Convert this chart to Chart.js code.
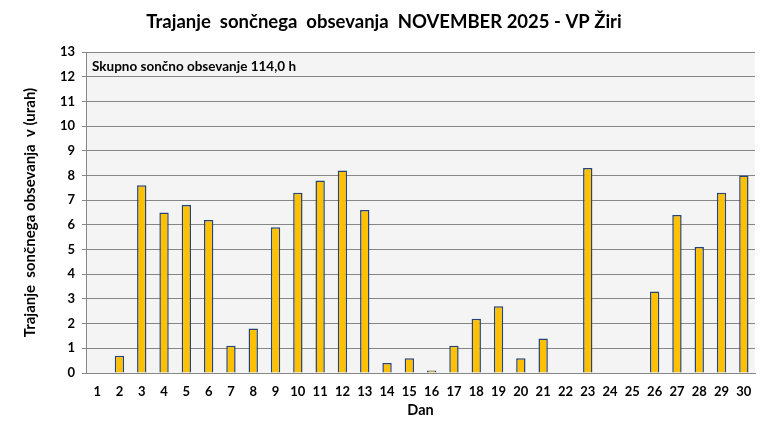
<!DOCTYPE html>
<html>
<head>
<meta charset="utf-8">
<script src="https://cdn.jsdelivr.net/npm/chart.js@4"></script>
<style>
html,body{margin:0;padding:0;background:#fff;}
#wrap{width:770px;height:439px;position:relative;}
</style>
</head>
<body>
<div id="wrap"><canvas id="c" width="770" height="439"></canvas></div>
<script>
const days = ['1','2','3','4','5','6','7','8','9','10','11','12','13','14','15','16','17','18','19','20','21','22','23','24','25','26','27','28','29','30'];
const sunHours = [0,0.7,7.6,6.5,6.8,6.2,1.1,1.8,5.9,7.3,7.8,8.2,6.6,0.4,0.6,0.1,1.1,2.2,2.7,0.6,1.4,0,8.3,0,0,3.3,6.4,5.1,7.3,8.0];
const chartTitle = 'Trajanje  sončnega  obsevanja  NOVEMBER 2025 - VP Žiri';
const yTitle = 'Trajanje  sončnega obsevanja  v (urah)';
const xTitle = 'Dan';
const totalNote = 'Skupno sončno obsevanje 114,0 h';
const yMin = 0, yMax = 13, yStep = 1;

const FONT = 'Lato, "Open Sans", sans-serif';

const decor = {
  id: 'decor',
  beforeDraw(chart) {
    const {ctx, chartArea: a} = chart;
    ctx.save();
    ctx.fillStyle = '#f4f4f4';
    ctx.fillRect(a.left, a.top, a.right - a.left, a.bottom - a.top);
    ctx.restore();
  },
  afterDraw(chart) {
    const {ctx, chartArea: a} = chart;
    ctx.save();
    ctx.fillStyle = '#000';
    ctx.font = 'bold 18.5px ' + FONT;
    ctx.textAlign = 'center';
    ctx.textBaseline = 'middle';
    ctx.fillText(chartTitle, 384, 22);
    ctx.font = 'bold 13.5px ' + FONT;
    ctx.textAlign = 'left';
    ctx.fillText(totalNote, a.left + 6, a.top + 15);
    ctx.restore();
  }
};

new Chart(document.getElementById('c'), {
  type: 'bar',
  data: {
    labels: days,
    datasets: [{
      data: sunHours,
      backgroundColor: '#ffc000',
      borderColor: '#264478',
      borderWidth: 1.5,
      categoryPercentage: 1,
      barPercentage: 0.42
    }]
  },
  options: {
    responsive: false,
    animation: false,
    layout: { padding: { top: 52, right: 15, left: 0, bottom: 0 } },
    plugins: { legend: { display: false }, tooltip: { enabled: false }, title: { display: false } },
    scales: {
      x: {
        grid: { display: false, drawTicks: false },
        border: { display: true, color: '#868686', width: 1 },
        ticks: { color: '#000', font: { family: FONT, size: 13, weight: 'bold' }, padding: 11, maxRotation: 0, autoSkip: false },
        title: { display: true, text: xTitle, color: '#000', font: { family: FONT, size: 14.5, weight: 'bold' }, padding: { top: 0, bottom: 20 } },
        afterFit(s) { s.height = 66; }
      },
      y: {
        min: yMin, max: yMax,
        ticks: { stepSize: yStep, color: '#000', font: { family: FONT, size: 13, weight: 'bold' }, padding: 7 },
        grid: { color: '#868686', lineWidth: 1, tickLength: 4, drawTicks: true },
        border: { display: true, color: '#868686', width: 1 },
        title: { display: true, text: yTitle, color: '#000', font: { family: FONT, size: 15, weight: 'bold' }, padding: { top: 21, bottom: 0 } },
        afterFit(s) { s.width = 86; }
      }
    }
  },
  plugins: [decor]
});
</script>
</body>
</html>
